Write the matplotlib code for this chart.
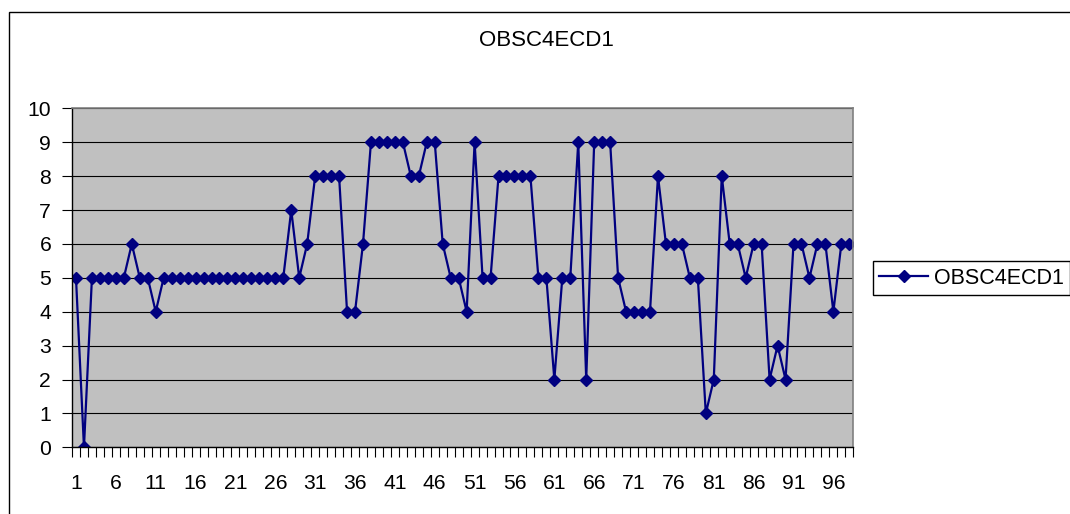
import numpy as np
import matplotlib.pyplot as plt
from matplotlib.patches import Rectangle

plt.rcParams['font.family'] = ['Liberation Sans', 'DejaVu Sans']

# Dữ liệu
series_name = 'OBSC4ECD1'
values = [5, 0, 5, 5, 5, 5, 5, 6, 5, 5,
          4, 5, 5, 5, 5, 5, 5, 5, 5, 5,
          5, 5, 5, 5, 5, 5, 5, 7, 5, 6,
          8, 8, 8, 8, 4, 4, 6, 9, 9, 9,
          9, 9, 8, 8, 9, 9, 6, 5, 5, 4,
          9, 5, 5, 8, 8, 8, 8, 8, 5, 5,
          2, 5, 5, 9, 2, 9, 9, 9, 5, 4,
          4, 4, 4, 8, 6, 6, 6, 5, 5, 1,
          2, 8, 6, 6, 5, 6, 6, 2, 3, 2,
          6, 6, 5, 6, 6, 4, 6, 6]
categories = list(range(1, len(values) + 1))
x_labels = categories[::5]
y_ticks = list(range(0, 11))

fig = plt.figure(figsize=(10.7, 5.14), dpi=100)
ax = fig.add_axes([72 / 1070, 1 - 447.3 / 514, (853.3 - 72) / 1070, (447.3 - 108.3) / 514])

# Khung ngoài của biểu đồ
fig.add_artist(Rectangle((8.5 / 1070, -0.1), 1.2, 1 - 11.5 / 514 + 0.1,
                         transform=fig.transFigure, fill=False,
                         edgecolor='black', linewidth=1.0))

ax.set_facecolor('#c0c0c0')
ax.plot(categories, values, color='#000080', linewidth=1.6,
        marker='D', markersize=6, markerfacecolor='#000080',
        markeredgecolor='#000080', label=series_name)

ax.set_xlim(0.5, len(values) + 0.5)
ax.set_ylim(0, 10)

ax.set_yticks(y_ticks)
ax.yaxis.grid(True, color='black', linewidth=0.8)
ax.set_axisbelow(True)

ax.set_xticks(x_labels)
ax.set_xticks(np.arange(0.5, len(values) + 1, 1), minor=True)
ax.tick_params(axis='x', which='major', length=0, pad=19, labelsize=15.2)
ax.tick_params(axis='x', which='minor', length=7, width=0.8, direction='out')
ax.tick_params(axis='y', length=7, width=0.8, pad=8, labelsize=15.2)

for side in ['top', 'right']:
    ax.spines[side].set_color('#808080')
    ax.spines[side].set_linewidth(1.2)
for side in ['left', 'bottom']:
    ax.spines[side].set_color('black')
    ax.spines[side].set_linewidth(1.0)

fig.text(546.7 / 1070, 1 - 40 / 514, series_name, ha='center', va='center', fontsize=16)

leg = ax.legend(loc='center left', bbox_to_anchor=(872.5 / 1070, 1 - 278 / 514),
                bbox_transform=fig.transFigure, fontsize=15.5, frameon=True,
                fancybox=False, edgecolor='black', framealpha=1,
                borderaxespad=0, handlelength=2.3, borderpad=0.3,
                handletextpad=0.25)
leg.get_frame().set_linewidth(1.0)

fig.savefig('out.png', dpi=100)
